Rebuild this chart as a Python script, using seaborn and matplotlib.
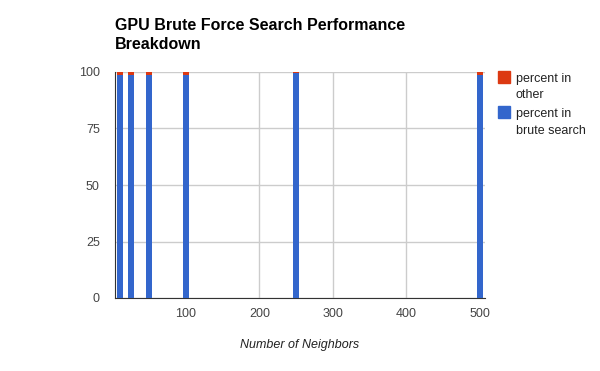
import matplotlib
matplotlib.use("Agg")
import matplotlib.pyplot as plt
import seaborn as sns
import pandas as pd
from matplotlib.patches import Rectangle

# data
neighbors = [10, 25, 50, 100, 250, 500]
pct_brute = [98.6, 98.5, 98.8, 98.8, 99.4, 98.6]
pct_other = [1.4, 1.5, 1.2, 1.2, 0.6, 1.4]

series_labels = ["percent in\nother", "percent in\nbrute search"]

red = "#dc3912"
blue = "#3366cc"

df = pd.DataFrame({"k": neighbors, "brute": pct_brute, "other": pct_other})
df["total"] = df["brute"] + df["other"]

sns.set_style("white")
plt.rcParams["font.family"] = ["Liberation Sans", "DejaVu Sans"]

W, H = 600, 371
fig = plt.figure(figsize=(6, 3.71), dpi=100)
ax = fig.add_axes([115 / W, 1 - 298 / H, 370 / W, 226 / H])

# stacked: draw full height in red, then brute part in blue on top
sns.barplot(data=df, x="k", y="total", native_scale=True, color=red,
            saturation=1, width=0.55, linewidth=0, edgecolor="none",
            ax=ax, zorder=3)
sns.barplot(data=df, x="k", y="brute", native_scale=True, color=blue,
            saturation=1, width=0.55, linewidth=0, edgecolor="none",
            ax=ax, zorder=4)

ax.set_xlim(3.4, 507)
ax.set_ylim(0, 100)
ax.set_xticks([100, 200, 300, 400, 500])
ax.set_yticks([0, 25, 50, 75, 100])
ax.grid(True, color="#cccccc", linewidth=1, zorder=0)
ax.set_axisbelow(True)
for s in ["top", "right"]:
    ax.spines[s].set_visible(False)
ax.spines["left"].set_color("#333333")
ax.spines["bottom"].set_color("#333333")
ax.tick_params(axis="y", length=0, labelsize=9, colors="#444444", pad=11)
ax.tick_params(axis="x", length=0, labelsize=9, colors="#444444", pad=7)
ax.set_xlabel("Number of Neighbors", fontsize=9, style="italic",
              color="#222222", labelpad=14)
ax.set_ylabel("")

fig.text(115 / W, 1 - 18 / H,
         "GPU Brute Force Search Performance\nBreakdown",
         fontsize=11.5, fontweight="bold", va="top", ha="left",
         linespacing=1.3, color="#000000")

# legend, laid out by hand like the google chart one
for i, (lab, col) in enumerate(zip(series_labels, [red, blue])):
    top = 71 + i * 35
    fig.patches.append(Rectangle((498 / W, 1 - (top + 12) / H), 12 / W, 12 / H,
                                 transform=fig.transFigure, color=col,
                                 figure=fig))
    fig.text(516 / W, 1 - (top + 2) / H, lab, fontsize=9, color="#222222",
             va="top", ha="left", linespacing=1.5)

fig.savefig("out.png", dpi=100)
